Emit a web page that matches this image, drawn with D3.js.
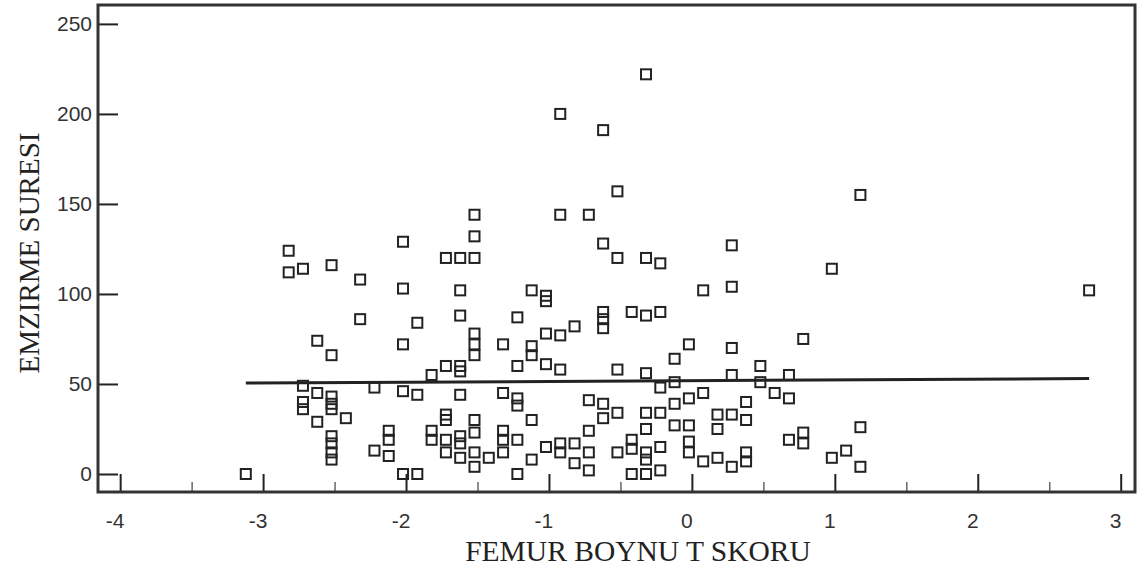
<!DOCTYPE html>
<html>
<head>
<meta charset="utf-8">
<script src="https://cdn.jsdelivr.net/npm/d3@7"></script>
<style>
  body { margin: 0; background: #fff; }
  svg { display: block; }
</style>
</head>
<body>
<div id="chart"></div>
<script>
// femur neck T score vs breastfeeding duration
const tScores = [
  -0.3, -0.9, -0.6, -0.5, 1.2, -1.5, -0.9, -0.7, -2.0, -1.5, -0.6, 0.3, -2.8,
  -2.8, -2.7, -2.5, -2.3,
  -1.7, -1.6, -1.5, -0.5, -0.3, -0.2, 1.0,
  -2.0, -1.6, -1.1, -1.0, -1.0, 0.1, 0.3, 2.8,
  -2.3, -1.9, -1.6, -1.2, -0.6, -0.6, -0.6, -0.8, -0.4, -0.3, -0.2,
  -1.0, -0.9, 0.8,
  -2.6, -2.5, -2.0, -1.3, -1.5, -1.5, -1.5, -1.1, -1.1, 0.0, 0.3, -0.1,
  -1.0, -1.2, -1.6, -1.7, -1.6, -1.8, -0.9, -0.5, -0.3, 0.5, 0.3, 0.7,
  -2.7, -2.6, -2.7, -2.7, -2.5, -2.5, -2.5, -2.4, -2.6,
  -2.5, -2.5, -2.5, -2.5,
  -3.1,
  -2.2, -2.0, -1.9, -1.6, -1.3, -1.2, -1.2, -0.7, -0.6, -0.5, -0.6,
  -0.1, -0.2, 0.5, 0.1, 0.0, -0.1, 0.6, 0.7, 0.4,
  -1.7, -1.7, -1.5, -1.1,
  -0.3, -0.2, 0.2, 0.3, 0.4,
  -2.1, -2.1, -1.8, -1.8, -1.7, -1.6, -1.6, -1.5, -1.3, -1.3, -1.2, -1.0, -0.9, -0.9, -0.8, -0.7, -0.7, -0.8, -0.7, -0.5,
  -2.2, -2.1, -1.7, -1.6, -1.5, -1.5, -1.4, -1.3, -1.1, -1.2, -2.0, -1.9,
  0.2, -0.3, -0.1, 0.0, 1.2, 0.7, 0.8, 0.8,
  -0.4, -0.4, -0.3, -0.3, -0.2, 0.0, 0.0, 0.1, 0.2, 0.3, 0.4, 0.4, 1.0, 1.1, 1.2,
  -0.4, -0.3, -0.2
];

const durations = [
  222, 200, 191, 157, 155, 144, 144, 144, 129, 132, 128, 127, 124,
  112, 114, 116, 108,
  120, 120, 120, 120, 120, 117, 114,
  103, 102, 102, 99, 96, 102, 104, 102,
  86, 84, 88, 87, 90, 86, 81, 82, 90, 88, 90,
  78, 77, 75,
  74, 66, 72, 72, 78, 72, 66, 71, 66, 72, 70, 64,
  61, 60, 60, 60, 57, 55, 58, 58, 56, 60, 55, 55,
  49, 45, 40, 36, 43, 39, 36, 31, 29,
  21, 17, 12, 8,
  0,
  48, 46, 44, 44, 45, 42, 38, 41, 39, 34, 31,
  51, 48, 51, 45, 42, 39, 45, 42, 40,
  33, 30, 30, 30,
  34, 34, 33, 33, 30,
  24, 19, 24, 19, 19, 21, 17, 23, 24, 19, 19, 15, 17, 12, 17, 24, 12, 6, 2, 12,
  13, 10, 12, 9, 12, 4, 9, 12, 8, 0, 0, 0,
  25, 25, 27, 27, 26, 19, 23, 17,
  19, 14, 12, 8, 15, 18, 12, 7, 9, 4, 12, 7, 9, 13, 4,
  0, 0, 2
];

// fitted line end points
const fitX = [-3.1, 2.8];
const fitY = [50.5, 53];

const xTicks = [-4, -3, -2, -1, 0, 1, 2, 3];
const xMinorTicks = [-3.5, -2.5, -1.5, -0.5, 0.5, 1.5, 2.5];
const yTicks = [0, 50, 100, 150, 200, 250];

const xTitle = "FEMUR BOYNU T SKORU";
const yTitle = "EMZIRME SURESI";

const W = 1143, H = 573;
const frame = { left: 98, right: 1135, top: 5, bottom: 492 };

const svg = d3.select("#chart").append("svg")
  .attr("width", W)
  .attr("height", H);

const x = d3.scaleLinear().domain([-4.155, 3.1]).range([frame.left, frame.right]);
const y = d3.scaleLinear().domain([-10, 260.5]).range([frame.bottom, frame.top]);

const ink = "#222";

// inward ticks on the left
svg.append("g")
  .attr("transform", `translate(${frame.left},0)`)
  .call(d3.axisRight(y).tickValues(yTicks).tickSize(20).tickFormat(""))
  .call(g => g.select(".domain").remove())
  .call(g => g.selectAll("line").attr("stroke", ink).attr("stroke-width", 2));

// inward ticks on the bottom
svg.append("g")
  .attr("transform", `translate(0,${frame.bottom})`)
  .call(d3.axisTop(x).tickValues(xTicks).tickSize(18).tickFormat(""))
  .call(g => g.select(".domain").remove())
  .call(g => g.selectAll("line").attr("stroke", ink).attr("stroke-width", 2));

svg.append("g")
  .attr("transform", `translate(0,${frame.bottom})`)
  .call(d3.axisTop(x).tickValues(xMinorTicks).tickSize(10).tickFormat(""))
  .call(g => g.select(".domain").remove())
  .call(g => g.selectAll("line").attr("stroke", "#666").attr("stroke-width", 1.5));

// tick labels
svg.append("g").selectAll("text")
  .data(yTicks)
  .join("text")
  .attr("x", frame.left - 6)
  .attr("y", d => y(d))
  .attr("dy", "0.35em")
  .attr("text-anchor", "end")
  .attr("font-family", "'Liberation Sans', Arial, sans-serif")
  .attr("font-size", 21)
  .attr("fill", "#333")
  .text(d => d);

svg.append("g").selectAll("text")
  .data(xTicks)
  .join("text")
  .attr("x", d => x(d) - 5)
  .attr("y", 528)
  .attr("text-anchor", "middle")
  .attr("font-family", "'Liberation Sans', Arial, sans-serif")
  .attr("font-size", 21)
  .attr("fill", "#333")
  .text(d => (d < 0 ? "-" + Math.abs(d) : d));

// frame
svg.append("rect")
  .attr("x", frame.left)
  .attr("y", frame.top)
  .attr("width", frame.right - frame.left)
  .attr("height", frame.bottom - frame.top)
  .attr("fill", "none")
  .attr("stroke", "#333")
  .attr("stroke-width", 3);

// points
const pts = tScores.map((t, i) => ({ t: t, d: durations[i] }));
const s = 10;
svg.append("g").selectAll("rect")
  .data(pts)
  .join("rect")
  .attr("x", d => x(d.t) - s / 2 - 3)
  .attr("y", d => y(d.d) - s / 2)
  .attr("width", s)
  .attr("height", s)
  .attr("fill", "none")
  .attr("stroke", ink)
  .attr("stroke-width", 2);

// fit line
svg.append("line")
  .attr("x1", x(fitX[0]) - 3)
  .attr("y1", y(fitY[0]))
  .attr("x2", x(fitX[1]) - 3)
  .attr("y2", y(fitY[1]))
  .attr("stroke", ink)
  .attr("stroke-width", 3);

// axis titles
svg.append("text")
  .attr("x", 638)
  .attr("y", 561)
  .attr("text-anchor", "middle")
  .attr("font-family", "'Liberation Serif', 'Times New Roman', serif")
  .attr("font-size", 29.5)
  .attr("fill", ink)
  .text(xTitle);

svg.append("text")
  .attr("transform", `translate(39,${253}) rotate(-90)`)
  .attr("text-anchor", "middle")
  .attr("font-family", "'Liberation Serif', 'Times New Roman', serif")
  .attr("font-size", 29)
  .attr("fill", ink)
  .text(yTitle);
</script>
</body>
</html>
